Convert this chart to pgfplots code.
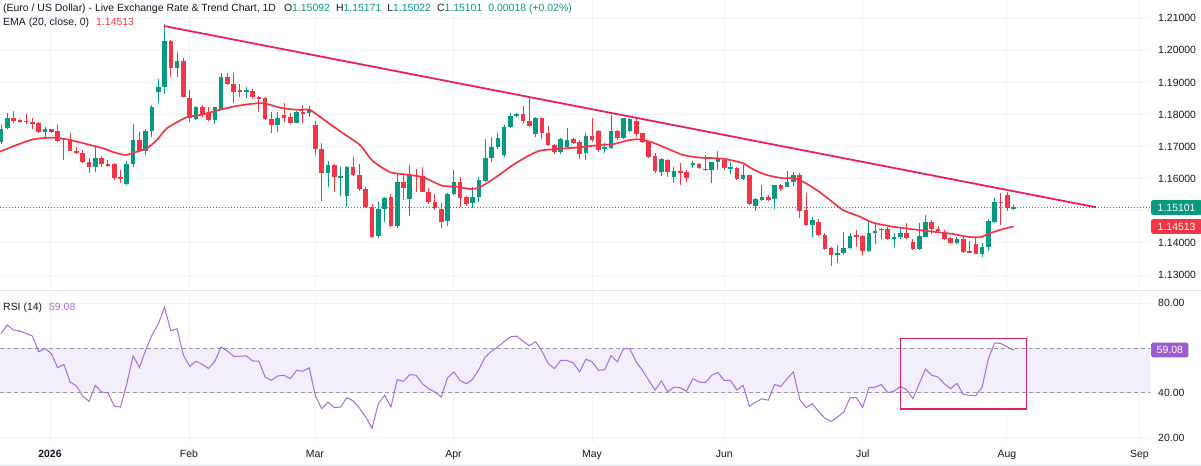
\documentclass[border=0pt]{standalone}
\usepackage{pgfplots}
\pgfplotsset{compat=1.18}
\usepackage{pgfplotstable}
\usepackage{fontspec}
\setmainfont{Liberation Sans}
\definecolor{up}{HTML}{089981}
\definecolor{dn}{HTML}{F23645}
\definecolor{trend}{HTML}{E91E63}
\definecolor{rsic}{HTML}{A66CD8}
\definecolor{rsibox}{HTML}{9C5BD0}
\definecolor{band}{HTML}{F2EEFA}
\definecolor{gridc}{HTML}{F0F3FA}
\definecolor{sepc}{HTML}{E0E3EB}
\definecolor{txt}{HTML}{131722}
\definecolor{dashc}{HTML}{9598A1}
\newcommand\ff{\fontsize{10.5}{12.6}\selectfont}

\pgfplotstableread{
i o h l c
0 1.17154 1.17675 1.17083 1.17541
1 1.17572 1.18039 1.17541 1.17884
7 1.17447 1.17622 1.17229 1.17550
15 1.16356 1.16980 1.16219 1.16656
20 1.15827 1.16562 1.15805 1.16459
21 1.16459 1.17706 1.16356 1.17207
23 1.16864 1.17541 1.16740 1.17497
24 1.17497 1.18298 1.17310 1.18245
25 1.18703 1.19108 1.18370 1.18850
26 1.18850 1.20822 1.18631 1.20302
28 1.19460 1.19959 1.19161 1.19669
31 1.17853 1.18267 1.17831 1.18226
34 1.17831 1.18245 1.17697 1.18226
35 1.18164 1.19286 1.18142 1.19161
39 1.18713 1.18850 1.18507 1.18765
44 1.17675 1.18089 1.17447 1.17884
47 1.17746 1.18120 1.17728 1.18089
49 1.18039 1.18267 1.17915 1.18164
52 1.16188 1.16562 1.15742 1.16428
54 1.16045 1.16366 1.15462 1.16063
55 1.15462 1.16397 1.15110 1.16375
60 1.14225 1.15284 1.14144 1.15057
61 1.15048 1.15440 1.14661 1.15390
63 1.14527 1.16169 1.14455 1.15889
65 1.15368 1.16428 1.14839 1.16116
71 1.14692 1.15565 1.14527 1.15524
72 1.15524 1.16272 1.15493 1.15908
75 1.15235 1.15733 1.15079 1.15421
76 1.15421 1.16045 1.15284 1.15961
77 1.15939 1.17229 1.15908 1.16637
78 1.16637 1.17291 1.16531 1.16980
79 1.16998 1.17435 1.16917 1.17260
80 1.16740 1.17675 1.16687 1.17622
81 1.17603 1.18058 1.17572 1.17955
82 1.17955 1.18039 1.17933 1.18008
85 1.17385 1.17915 1.17310 1.17902
89 1.16824 1.17260 1.16771 1.17238
90 1.16980 1.17572 1.16949 1.17207
93 1.16793 1.17416 1.16584 1.17332
96 1.16949 1.17104 1.16793 1.16980
97 1.16949 1.17986 1.16917 1.17488
99 1.17260 1.17884 1.17229 1.17884
100 1.17488 1.17884 1.17466 1.17853
105 1.16219 1.16637 1.16085 1.16606
107 1.16063 1.16375 1.15858 1.16241
110 1.16428 1.16553 1.16325 1.16481
113 1.16272 1.16531 1.15877 1.16512
114 1.16512 1.16864 1.16272 1.16606
116 1.16325 1.16531 1.16148 1.16344
118 1.15982 1.16428 1.15961 1.16116
120 1.15150 1.15390 1.14994 1.15359
121 1.15337 1.15805 1.15316 1.15440
123 1.15359 1.15805 1.15048 1.15805
125 1.15752 1.16250 1.15733 1.15908
126 1.15908 1.16219 1.15774 1.16116
129 1.14558 1.14817 1.14193 1.14714
133 1.13623 1.13935 1.13365 1.13695
134 1.13695 1.14349 1.13623 1.13851
135 1.13851 1.14318 1.13810 1.14225
138 1.13757 1.14714 1.13726 1.14300
139 1.14300 1.14630 1.13966 1.14371
140 1.14402 1.14455 1.14113 1.14434
142 1.14122 1.14318 1.13863 1.14175
143 1.14175 1.14486 1.14122 1.14300
146 1.13801 1.14630 1.13779 1.14215
147 1.14193 1.14870 1.14175 1.14661
152 1.13988 1.14193 1.13966 1.14122
156 1.13654 1.14007 1.13552 1.13882
157 1.13882 1.14736 1.13757 1.14692
158 1.14661 1.15390 1.14630 1.15284
161 1.15092 1.15171 1.15022 1.15101
}\upc

\pgfplotstableread{
i o h l c
2 1.17884 1.18111 1.17746 1.17799
3 1.17831 1.17862 1.17737 1.17778
4 1.17809 1.18008 1.17697 1.17759
5 1.17759 1.17884 1.17541 1.17728
6 1.17728 1.17778 1.17416 1.17447
8 1.17550 1.17566 1.17425 1.17447
9 1.17497 1.17675 1.17154 1.17176
10 1.17260 1.17269 1.16584 1.17229
11 1.17238 1.17416 1.16874 1.16874
12 1.16864 1.16998 1.16771 1.16793
13 1.16811 1.16896 1.16481 1.16512
14 1.16531 1.16637 1.16188 1.16356
16 1.16656 1.16709 1.16356 1.16459
17 1.16459 1.16584 1.16356 1.16419
18 1.16450 1.16500 1.15961 1.16014
19 1.16045 1.16272 1.15877 1.15982
22 1.17207 1.17466 1.16864 1.16864
27 1.20302 1.20324 1.19161 1.19460
29 1.19669 1.19753 1.18538 1.18538
30 1.18507 1.18765 1.17778 1.17884
32 1.18226 1.18289 1.17915 1.18018
33 1.18039 1.18226 1.17799 1.17831
36 1.19161 1.19305 1.18921 1.18952
37 1.18952 1.19305 1.18370 1.18713
38 1.18765 1.18952 1.18547 1.18713
40 1.18744 1.18787 1.18476 1.18538
41 1.18557 1.18579 1.18089 1.18476
42 1.18507 1.18538 1.17831 1.17853
43 1.17853 1.18089 1.17435 1.17675
45 1.17986 1.18351 1.17778 1.17884
46 1.17915 1.18039 1.17697 1.17746
48 1.18089 1.18298 1.17746 1.18039
50 1.17675 1.17799 1.16740 1.16911
51 1.16917 1.17098 1.15306 1.16188
53 1.16428 1.16459 1.15596 1.16045
56 1.16375 1.16678 1.16085 1.16101
57 1.16101 1.16459 1.15618 1.15665
58 1.15680 1.15742 1.15088 1.15110
59 1.15110 1.15213 1.14153 1.14184
62 1.15421 1.15524 1.14505 1.14527
64 1.15908 1.16138 1.15337 1.15721
66 1.16116 1.16303 1.15596 1.16095
67 1.16085 1.16375 1.15577 1.15596
68 1.15596 1.15702 1.15213 1.15284
69 1.15284 1.15524 1.15026 1.15079
70 1.15057 1.15235 1.14474 1.14661
73 1.15889 1.16045 1.15110 1.15390
74 1.15421 1.15462 1.15150 1.15213
83 1.18008 1.18267 1.17728 1.17799
84 1.17799 1.18507 1.17622 1.17653
86 1.17902 1.17915 1.17229 1.17416
87 1.17435 1.17644 1.17020 1.17051
88 1.17051 1.17083 1.16771 1.16824
91 1.17238 1.17279 1.17083 1.17123
92 1.17154 1.17207 1.16606 1.16771
94 1.17332 1.17884 1.17154 1.17207
95 1.17497 1.17519 1.16843 1.16896
98 1.17488 1.17519 1.17207 1.17260
101 1.17809 1.17884 1.17310 1.17385
102 1.17416 1.17435 1.17123 1.17154
103 1.17154 1.17185 1.16637 1.16687
104 1.16709 1.16793 1.16169 1.16241
106 1.16584 1.16606 1.16045 1.16219
108 1.16241 1.16481 1.15805 1.16188
109 1.16219 1.16272 1.15908 1.16032
111 1.16450 1.16481 1.16294 1.16325
112 1.16303 1.16740 1.16250 1.16272
115 1.16584 1.16606 1.16272 1.16325
117 1.16344 1.16356 1.15961 1.15982
119 1.16116 1.16116 1.15181 1.15213
122 1.15440 1.15493 1.15316 1.15337
124 1.15805 1.15836 1.15627 1.15671
127 1.16116 1.16188 1.14767 1.15004
128 1.15026 1.15546 1.14527 1.14558
130 1.14661 1.14736 1.14215 1.14247
131 1.14247 1.14300 1.13779 1.13810
132 1.13832 1.13882 1.13280 1.13623
136 1.14247 1.14402 1.13882 1.14193
137 1.14225 1.14247 1.13623 1.13757
141 1.14434 1.14486 1.14091 1.14122
144 1.14318 1.14630 1.14122 1.14144
145 1.14038 1.14113 1.13779 1.13810
148 1.14661 1.14714 1.14278 1.14424
149 1.14424 1.14527 1.14300 1.14371
150 1.14300 1.14402 1.14091 1.14122
151 1.14144 1.14193 1.13957 1.13988
153 1.14122 1.14247 1.13695 1.13726
154 1.13757 1.14069 1.13676 1.13695
155 1.13966 1.14175 1.13654 1.13654
159 1.15284 1.15546 1.14558 1.15235
160 1.15493 1.15596 1.15004 1.15079
}\dnc

\pgfplotstableread{
i e
-0.16 1.16843
2.50 1.17051
5.14 1.17229
7.79 1.17279
9.38 1.17260
11.45 1.17185
14.15 1.17051
16.22 1.16949
18.12 1.16811
19.87 1.16740
21.62 1.16843
23.21 1.16949
24.80 1.17207
26.39 1.17572
29.52 1.17915
31.64 1.17986
36.88 1.18245
40.65 1.18351
42.24 1.18329
44.83 1.18195
47.54 1.18142
49.13 1.18142
51.78 1.17778
54.37 1.17416
57.07 1.17051
58.93 1.16584
60.52 1.16356
62.11 1.16188
65.02 1.16116
67.09 1.16045
68.68 1.15908
70.27 1.15774
72.45 1.15752
74.56 1.15680
76.15 1.15733
78.81 1.16063
81.40 1.16428
84.10 1.16740
85.69 1.16874
87.76 1.16917
92.05 1.16980
95.23 1.17051
97.30 1.17073
99.48 1.17185
101.07 1.17229
102.07 1.17207
103.66 1.17123
105.83 1.16949
108.43 1.16740
111.13 1.16656
113.78 1.16637
115.37 1.16606
117.97 1.16481
119.55 1.16294
121.73 1.16116
124.32 1.16014
125.91 1.16014
127.50 1.15908
129.68 1.15649
131.80 1.15337
133.86 1.15026
136.57 1.14817
138.63 1.14630
141.81 1.14505
144.99 1.14424
148.17 1.14349
151.35 1.14278
153.53 1.14193
155.64 1.14175
157.23 1.14300
158.82 1.14402
161 1.14513
}\emat

\pgfplotstableread{
i r
0 66.5
1 70.3
2 68.0
3 67.6
4 66.5
5 65.3
6 58.3
7 59.8
8 57.5
9 51.2
10 52.6
11 44.8
12 43.0
13 38.5
14 36.1
15 43.3
16 40.3
17 40.0
18 34.0
19 33.6
20 44.0
21 56.5
22 51.2
23 59.0
24 65.8
25 70.7
26 78.2
27 67.7
28 68.6
29 56.8
30 51.8
31 54.1
32 52.7
33 50.8
34 54.1
35 60.5
36 58.6
37 56.3
38 56.3
39 56.5
40 54.2
41 54.1
42 47.0
43 45.5
44 47.5
45 47.8
46 46.3
47 50.0
48 49.6
49 51.2
50 38.5
51 32.8
52 35.8
53 33.3
54 33.6
55 37.8
56 36.3
57 33.1
58 29.1
59 24.1
60 35.1
61 38.8
62 33.6
63 45.8
64 45.1
65 48.1
66 47.8
67 44.0
68 41.8
69 40.3
70 38.1
71 46.6
72 49.3
73 45.5
74 44.0
75 46.0
76 50.5
77 56.0
78 58.6
79 60.5
80 62.8
81 65.0
82 65.3
83 63.1
84 61.0
85 62.8
86 58.7
87 53.0
88 50.8
89 54.5
90 54.4
91 53.3
92 49.4
93 55.0
94 53.8
95 50.0
96 50.3
97 56.6
98 53.8
99 59.8
100 59.6
101 53.8
102 50.0
103 45.5
104 41.2
105 45.2
106 40.4
107 42.5
108 42.2
109 40.6
110 46.3
111 44.8
112 44.5
113 47.8
114 49.0
115 45.5
116 45.5
117 41.2
118 43.3
119 33.9
120 35.8
121 37.3
122 36.6
123 43.7
124 42.8
125 46.3
126 49.3
127 37.0
128 33.3
129 35.1
130 31.6
131 28.6
132 27.1
133 29.1
134 31.3
135 37.8
136 37.8
137 33.4
138 42.2
139 42.5
140 43.6
141 40.0
142 40.7
143 42.8
144 41.3
145 37.3
146 44.0
147 50.5
148 47.8
149 47.0
150 44.0
151 41.8
152 44.2
153 39.3
154 38.8
155 38.7
156 42.5
157 55.3
158 62.3
159 62.0
160 60.5
161 59.08
}\rsit

\pgfplotsset{
  cwick/.style={draw=none, mark=none, forget plot,
     error bars/.cd, y dir=both, y explicit,
     error bar style={line width=1bp, draw=#1, solid},
     draw error bar/.code 2 args={\draw[draw=#1, line width=1bp, solid] ##1 -- ##2;}},
  cbody/.style={draw=none, mark=none, forget plot,
     error bars/.cd, y dir=both, y explicit,
     error bar style={line width=4.6bp, draw=#1, solid},
     draw error bar/.code 2 args={\draw[draw=#1, line width=4.6bp, solid] ##1 -- ##2;}},
  tvaxis/.style={scale only axis, width=1150bp,
     xmin=-0.16, xmax=182.7,
     axis line style={draw=none}, major tick length=0pt,
     xtick={7.79,29.89,49.92,71.94,93.96,115.02,137.04,159.94,181.0},
     yticklabel pos=right,
     yticklabel style={anchor=west, inner sep=0pt, xshift=8bp, font=\ff, text=txt},
     xmajorgrids, ymajorgrids, grid style={gridc, line width=0.8bp}},
}

\begin{document}
\begin{tikzpicture}[x=1bp,y=1bp]
\fill[white] (0,0) rectangle (1201,466);
\begin{axis}[tvaxis, at={(0bp,175bp)}, anchor=south west, height=291bp,
  ymin=1.1250, ymax=1.2157,
  xticklabels={{},{},{},{},{},{},{},{},{}},
  ytick={1.13,1.14,1.15,1.16,1.17,1.18,1.19,1.20,1.21},
  yticklabels={1.13000,1.14000,{},1.16000,1.17000,1.18000,1.19000,1.20000,1.21000},
]
\addplot[up, line width=0.9bp, dash pattern=on 1bp off 2bp] coordinates {(-0.16,1.15101) (182.7,1.15101)};
\addplot[cwick=up] table[x=i, y expr={(\thisrow{h}+\thisrow{l})/2}, y error expr={(\thisrow{h}-\thisrow{l})/2}]{\upc};
\addplot[cwick=dn] table[x=i, y expr={(\thisrow{h}+\thisrow{l})/2}, y error expr={(\thisrow{h}-\thisrow{l})/2}]{\dnc};
\addplot[cbody=up] table[x=i, y expr={(\thisrow{o}+\thisrow{c})/2}, y error expr={max(abs(\thisrow{c}-\thisrow{o})/2,0.00016)}]{\upc};
\addplot[cbody=dn] table[x=i, y expr={(\thisrow{o}+\thisrow{c})/2}, y error expr={max(abs(\thisrow{c}-\thisrow{o})/2,0.00016)}]{\dnc};
\addplot[dn, line width=1.7bp, smooth, tension=0.4] table[x=i, y=e]{\emat};
\addplot[trend, line width=1.8bp] coordinates {(25.9,1.20760) (174.1,1.15110)};
\coordinate (pl) at (axis cs:182.7,1.15101);
\coordinate (em) at (axis cs:182.7,1.14513);
\end{axis}
\begin{axis}[tvaxis, at={(0bp,23bp)}, anchor=south west, height=152bp,
  ymin=17.5, ymax=85.5,
  xticklabels={\textbf{2026},Feb,Mar,Apr,May,Jun,Jul,Aug,Sep},
  xticklabel style={anchor=base, inner sep=0pt, yshift=-14.7bp, font=\ff, text=txt},
  ytick={20,40,80}, yticklabels={20.00,40.00,80.00},
]
\fill[band] (axis cs:-0.16,40) rectangle (axis cs:182.7,60);
\draw[dashc, line width=0.8bp, dash pattern=on 4bp off 3bp] (axis cs:-0.16,60) -- (axis cs:182.7,60);
\draw[dashc, line width=0.8bp, dash pattern=on 4bp off 3bp] (axis cs:-0.16,40) -- (axis cs:182.7,40);
\addplot[rsic, line width=1bp] table[x=i, y=r]{\rsit};
\draw[trend, line width=1.5bp] (axis cs:143.04,32.7) rectangle (axis cs:163.07,64.16);
\coordinate (rl) at (axis cs:182.7,59.08);
\end{axis}
\draw[sepc, line width=1bp] (0,175) -- (1201,175);
\draw[sepc, line width=0.8bp] (0,1) -- (1201,1);
\node[anchor=base west, inner sep=0pt, font=\ff, text=txt] at (3,454.5)
  {(Euro / US Dollar) - Live Exchange Rate \& Trend Chart, 1D\hspace{8bp}O\textcolor{up}{1.15092}\hspace{6bp}H\textcolor{up}{1.15171}\hspace{6bp}L\textcolor{up}{1.15022}\hspace{6bp}C\textcolor{up}{1.15101}\hspace{6bp}\textcolor{up}{0.00018 (+0.02\%)}};
\node[anchor=base west, inner sep=0pt, font=\ff, text=txt] at (3,440)
  {EMA (20, close, 0)\hspace{7bp}\textcolor{dn}{1.14513}};
\node[anchor=base west, inner sep=0pt, font=\ff, text=txt] at (3,155.5)
  {RSI (14)\hspace{7bp}\textcolor{rsic}{59.08}};
\node[anchor=west, fill=up, text=white, inner xsep=6.5bp, inner ysep=0pt, minimum height=14.7bp, font=\ff, rounded corners=1.5bp] at ([xshift=1bp]pl) {1.15101};
\node[anchor=west, fill=dn, text=white, inner xsep=6.5bp, inner ysep=0pt, minimum height=14.7bp, font=\ff, rounded corners=1.5bp] at ([xshift=1bp]em) {1.14513};
\node[anchor=west, fill=rsibox, text=white, inner xsep=5.5bp, inner ysep=0pt, minimum height=14.7bp, font=\ff, rounded corners=1.5bp] at ([xshift=1bp]rl) {59.08};
\pgfresetboundingbox
\path[use as bounding box] (0,0) rectangle (1201,466);
\end{tikzpicture}
\end{document}
